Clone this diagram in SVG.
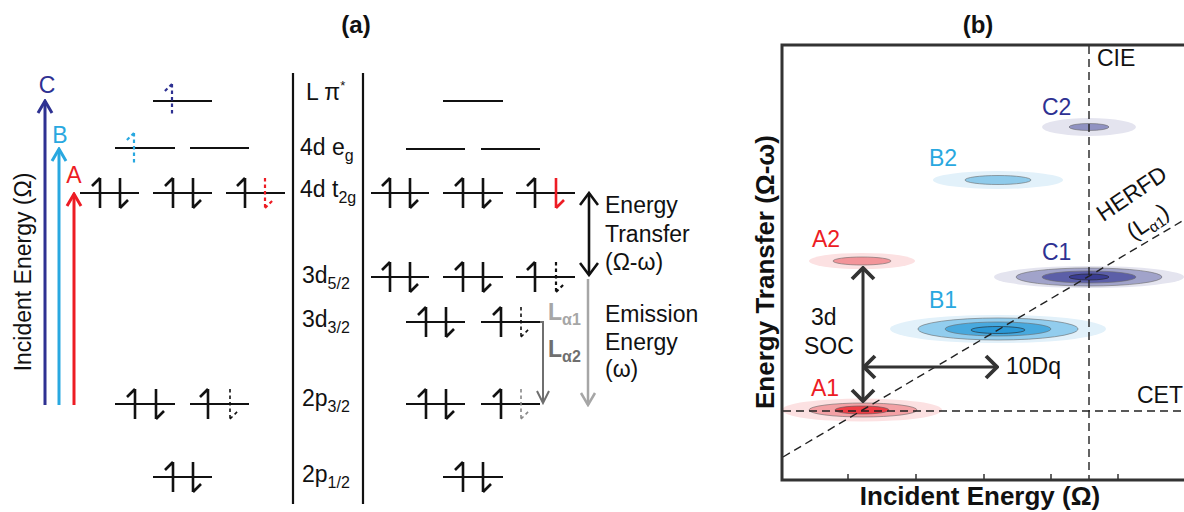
<svg xmlns="http://www.w3.org/2000/svg" width="1184" height="512" viewBox="0 0 1184 512">
<style>
text{font-family:"Liberation Sans",Arial,sans-serif;fill:#111}
.t{font-size:23px}
.b{font-weight:bold}
.lv{stroke:#111;stroke-width:2;fill:none}
.s{stroke:#111;stroke-width:2.6;fill:none}
.d{stroke-dasharray:3.5 3;stroke-width:2.2}
.sep{stroke:#111;stroke-width:2.2}
.dash{stroke:#222;stroke-width:1.4;stroke-dasharray:8 5;fill:none}
.el{stroke:#6a6a6a;stroke-width:0.6}
</style>
<defs>
<path id="up" d="M0 -15 V15 M0 -15 L-8 -7"/>
<path id="dn" d="M0 -15 V15 M0 15 L8 7"/>
<marker id="mNavy" viewBox="-14 -9 16 18" markerWidth="16" markerHeight="18" refX="0" refY="0" orient="auto-start-reverse" markerUnits="userSpaceOnUse"><path d="M-12 -7 L0 0 L-12 7" fill="none" stroke="#2E3192" stroke-width="3"/></marker>
<marker id="mBlue" viewBox="-14 -9 16 18" markerWidth="16" markerHeight="18" refX="0" refY="0" orient="auto-start-reverse" markerUnits="userSpaceOnUse"><path d="M-12 -7 L0 0 L-12 7" fill="none" stroke="#29A8E0" stroke-width="3"/></marker>
<marker id="mRed" viewBox="-14 -9 16 18" markerWidth="16" markerHeight="18" refX="0" refY="0" orient="auto-start-reverse" markerUnits="userSpaceOnUse"><path d="M-12 -7 L0 0 L-12 7" fill="none" stroke="#ED1C24" stroke-width="3"/></marker>
<marker id="mBlk" viewBox="-14 -10 16 20" markerWidth="16" markerHeight="20" refX="0" refY="0" orient="auto-start-reverse" markerUnits="userSpaceOnUse"><path d="M-12 -9 L0 0 L-12 9" fill="none" stroke="#111" stroke-width="2.6"/></marker>
<marker id="mG1" viewBox="-14 -9 16 18" markerWidth="16" markerHeight="18" refX="0" refY="0" orient="auto-start-reverse" markerUnits="userSpaceOnUse"><path d="M-12 -6 L0 0 L-12 6" fill="none" stroke="#6F6F6F" stroke-width="2"/></marker>
<marker id="mG2" viewBox="-14 -9 16 18" markerWidth="16" markerHeight="18" refX="0" refY="0" orient="auto-start-reverse" markerUnits="userSpaceOnUse"><path d="M-12 -7 L0 0 L-12 7" fill="none" stroke="#A6A6A6" stroke-width="2.5"/></marker>
<marker id="mDk" viewBox="-15 -13 17 26" markerWidth="17" markerHeight="26" refX="0" refY="0" orient="auto-start-reverse" markerUnits="userSpaceOnUse"><path d="M-11 -11 L0 0 L-11 11" fill="none" stroke="#333" stroke-width="3.8"/></marker>
</defs>

<!-- titles -->
<text class="b" x="356" y="33" font-size="24" text-anchor="middle">(a)</text>
<text class="b" x="978" y="33" font-size="24" text-anchor="middle">(b)</text>

<!-- left panel: incident energy -->
<g id="incident-arrows">
<line x1="45" y1="405" x2="45" y2="101" stroke="#2E3192" stroke-width="3" marker-end="url(#mNavy)"/>
<line x1="59" y1="405" x2="59" y2="149" stroke="#29A8E0" stroke-width="3" marker-end="url(#mBlue)"/>
<line x1="74" y1="405" x2="74" y2="194" stroke="#ED1C24" stroke-width="3" marker-end="url(#mRed)"/>
<text class="t" x="47" y="93" text-anchor="middle" style="fill:#2E3192">C</text>
<text class="t" x="60" y="143" text-anchor="middle" style="fill:#29A8E0">B</text>
<text class="t" x="74" y="183" text-anchor="middle" style="fill:#ED1C24">A</text>
<text class="t" transform="translate(31,272) rotate(-90)" text-anchor="middle" font-size="24">Incident Energy (Ω)</text>
</g>

<!-- left orbitals -->
<g id="left-orbitals">
<path class="lv" d="M153 101H212 M115 148H175 M190 148H249 M80 193H139 M153 193H212 M226 193H285 M115 404H175 M190 404H249 M153 477H212"/>
<use href="#up" x="172" y="99" class="s d" style="stroke:#2E3192"/>
<use href="#up" x="134" y="148" class="s d" style="stroke:#29A8E0"/>
<use href="#up" x="100" y="193" class="s"/>
<use href="#dn" x="120" y="193" class="s"/>
<use href="#up" x="173" y="193" class="s"/>
<use href="#dn" x="193" y="193" class="s"/>
<use href="#up" x="245" y="193" class="s"/>
<use href="#dn" x="265" y="193" class="s d" style="stroke:#ED1C24"/>
<use href="#up" x="135" y="404" class="s"/>
<use href="#dn" x="156" y="404" class="s"/>
<use href="#up" x="208" y="404" class="s"/>
<use href="#dn" x="230" y="404" class="s d" style="stroke-width:1.6"/>
<use href="#up" x="173" y="477" class="s"/>
<use href="#dn" x="193" y="477" class="s"/>
</g>

<!-- separators and level labels -->
<g id="level-labels">
<line class="sep" x1="293" y1="73" x2="293" y2="504"/>
<line class="sep" x1="363" y1="73" x2="363" y2="504"/>
<text x="306" y="100" font-size="23">L π<tspan font-size="13" dy="-10">*</tspan></text>
<text class="t" x="300" y="155">4d e<tspan font-size="16" dy="6">g</tspan></text>
<text class="t" x="300" y="197">4d t<tspan font-size="16" dy="6">2g</tspan></text>
<text class="t" x="302" y="283">3d<tspan font-size="16" dy="6">5/2</tspan></text>
<text class="t" x="302" y="327">3d<tspan font-size="16" dy="6">3/2</tspan></text>
<text class="t" x="302" y="406">2p<tspan font-size="16" dy="6">3/2</tspan></text>
<text class="t" x="302" y="482">2p<tspan font-size="16" dy="6">1/2</tspan></text>
</g>

<!-- middle orbitals -->
<g id="middle-orbitals">
<path class="lv" d="M443 101H503 M406 149H465 M481 149H540 M371 193H429 M443 193H503 M516 193H575 M371 277H429 M443 277H503 M516 277H575 M406 322H465 M481 322H540 M406 404H465 M481 404H540 M443 477H503"/>
<use href="#up" x="390" y="193" class="s"/>
<use href="#dn" x="410" y="193" class="s"/>
<use href="#up" x="463" y="193" class="s"/>
<use href="#dn" x="483" y="193" class="s"/>
<use href="#up" x="535" y="193" class="s"/>
<use href="#dn" x="556" y="193" class="s" style="stroke:#ED1C24"/>
<use href="#up" x="390" y="277" class="s"/>
<use href="#dn" x="410" y="277" class="s"/>
<use href="#up" x="463" y="277" class="s"/>
<use href="#dn" x="483" y="277" class="s"/>
<use href="#up" x="535" y="277" class="s"/>
<use href="#dn" x="556" y="277" class="s d"/>
<use href="#up" x="426" y="322" class="s"/>
<use href="#dn" x="446" y="322" class="s"/>
<use href="#up" x="501" y="322" class="s"/>
<use href="#dn" x="521" y="322" class="s d" style="stroke-width:1.6"/>
<use href="#up" x="426" y="404" class="s"/>
<use href="#dn" x="446" y="404" class="s"/>
<use href="#up" x="501" y="404" class="s"/>
<use href="#dn" x="521" y="404" class="s d" style="stroke:#888;stroke-width:1.6"/>
<use href="#up" x="463" y="477" class="s"/>
<use href="#dn" x="483" y="477" class="s"/>
</g>

<!-- transitions (a) -->
<g id="transitions">
<path d="M540 322H543V403" fill="none" stroke="#6F6F6F" stroke-width="2" marker-end="url(#mG1)"/>
<line x1="588" y1="279" x2="588" y2="405" stroke="#A6A6A6" stroke-width="2.5" marker-end="url(#mG2)"/>
<line x1="589" y1="193" x2="589" y2="275" stroke="#111" stroke-width="2.6" marker-start="url(#mBlk)" marker-end="url(#mBlk)"/>
<text class="b" x="548" y="320" font-size="23" style="fill:#A6A6A6">L<tspan font-size="16" dy="5">α1</tspan></text>
<text class="b" x="548" y="357" font-size="23" style="fill:#6F6F6F">L<tspan font-size="16" dy="5">α2</tspan></text>
<text class="t" x="605" y="213">Energy</text>
<text class="t" x="605" y="242">Transfer</text>
<text class="t" x="605" y="270">(Ω-ω)</text>
<text class="t" x="605" y="322">Emission</text>
<text class="t" x="605" y="350">Energy</text>
<text class="t" x="605" y="377">(ω)</text>
</g>

<!-- panel (b) -->
<g id="spots">
<g id="C2"><ellipse cx="1089" cy="127" rx="47" ry="9" fill="#E4E4EF"/><ellipse class="el" cx="1089" cy="127" rx="20" ry="3.5" fill="#9092C2"/></g>
<g id="B2"><ellipse cx="998" cy="180" rx="65" ry="9" fill="#E2F1FA"/><ellipse class="el" cx="998" cy="180" rx="33" ry="4.5" fill="#8FCBEB"/></g>
<g id="A2"><ellipse cx="862" cy="261" rx="53" ry="8" fill="#FCE1E2"/><ellipse class="el" cx="862" cy="261" rx="29" ry="4" fill="#F3959A"/></g>
<g id="C1"><ellipse cx="1089" cy="277" rx="95" ry="11" fill="#E4E4EF"/><ellipse class="el" cx="1089" cy="277" rx="73" ry="9" fill="#A1A3CA"/><ellipse class="el" cx="1089" cy="277" rx="47" ry="6" fill="#5C5FA8"/><ellipse cx="1089" cy="277" rx="20" ry="3" fill="#3A3D92" stroke="#222" stroke-width="0.6"/></g>
<g id="B1"><ellipse cx="998" cy="329" rx="108" ry="14" fill="#E2F1FA"/><ellipse class="el" cx="998" cy="329" rx="80" ry="11" fill="#92CDEE"/><ellipse class="el" cx="998" cy="329" rx="53" ry="7" fill="#48A9DE"/><ellipse cx="998" cy="330" rx="27" ry="3.5" fill="#2B98D6" stroke="#222" stroke-width="0.6"/></g>
<g id="A1"><ellipse cx="862" cy="410" rx="80" ry="11.5" fill="#FCE1E2"/><ellipse class="el" cx="863" cy="410" rx="54" ry="7" fill="#F3A1A5"/><ellipse cx="862" cy="410" rx="27" ry="4" fill="#EF3E46" stroke="#555" stroke-width="0.6"/></g>
</g>

<g id="guides">
<line class="dash" x1="1089" y1="46" x2="1089" y2="479"/>
<line class="dash" x1="783" y1="411" x2="1184" y2="411"/>
<line class="dash" x1="783" y1="457" x2="1184" y2="220"/>
<text class="t" x="1097" y="66">CIE</text>
<text class="t" x="1137" y="403">CET</text>
<text class="t" transform="translate(1136,200) rotate(-34)" text-anchor="middle" font-size="22">HERFD</text>
<text class="t" transform="translate(1152,228) rotate(-34)" text-anchor="middle" font-size="22">(L<tspan font-size="15" dy="5">α1</tspan><tspan dy="-5">)</tspan></text>
</g>

<g id="frame">
<path d="M1184 45H782V480H1184" fill="none" stroke="#333" stroke-width="3"/>
<path d="M848 480V474 M916 480V474 M984 480V474 M1051 480V474 M1118 480V474" stroke="#333" stroke-width="1.5"/>
<text class="b" x="980" y="505" font-size="26" text-anchor="middle">Incident Energy (Ω)</text>
<text class="b" transform="translate(774,272) rotate(-90)" font-size="26" text-anchor="middle">Energy Transfer (Ω-ω)</text>
</g>

<g id="spot-labels">
<text class="t" x="1042" y="115" style="fill:#2E3192">C2</text>
<text class="t" x="929" y="166" style="fill:#29A8E0">B2</text>
<text class="t" x="812" y="247" style="fill:#ED1C24">A2</text>
<text class="t" x="1042" y="260" style="fill:#2E3192">C1</text>
<text class="t" x="929" y="308" style="fill:#29A8E0">B1</text>
<text class="t" x="811" y="396" style="fill:#ED1C24">A1</text>
</g>

<g id="connectors">
<line x1="863" y1="268" x2="863" y2="401" stroke="#333" stroke-width="3" marker-start="url(#mDk)" marker-end="url(#mDk)"/>
<line x1="864" y1="367" x2="997" y2="367" stroke="#333" stroke-width="3" marker-start="url(#mDk)" marker-end="url(#mDk)"/>
<text class="t" x="811" y="325">3d</text>
<text class="t" x="804" y="354">SOC</text>
<text class="t" x="1006" y="374">10Dq</text>
</g>
</svg>
